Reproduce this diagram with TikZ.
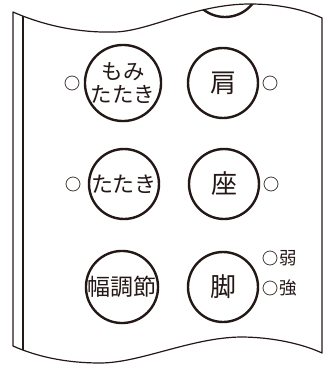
\documentclass[tikz,border=0pt]{standalone}
\usepackage{fontspec}
\setmainfont{Noto Sans CJK JP}
\definecolor{ink}{HTML}{231815}
\tikzset{
  btn/.style={circle, draw=ink, line width=2.4pt, minimum size=70pt, inner sep=0pt, text=ink, align=center},
  bigtxt/.style={font=\fontsize{26}{28}\selectfont},
  midtxt/.style={font=\fontsize{22}{22}\selectfont},
  lamp/.style={circle, draw=ink!85, line width=0.8pt, minimum size=14pt, inner sep=0pt},
  lbl/.style={text=ink, inner sep=0pt, font=\fontsize{17.5}{17.5}\selectfont},
  panel/.style={draw=ink, line width=1.2pt}
}
\begin{document}
\begin{tikzpicture}[x=1pt,y=-1pt]
\useasboundingbox (0,0) rectangle (325,365);
% panel outline
\def\panelpath{(13,12) .. controls (45,26) and (80,33) .. (115,32) .. controls (150,31) and (195,4) .. (250,4) .. controls (280,4) and (305,10) .. (322,18) -- (322,353) .. controls (305,345) and (275,337) .. (240,337) .. controls (190,338) and (140,363) .. (100,363) .. controls (70,363) and (40,358) .. (13,346) -- cycle}
\draw[panel, line join=round] \panelpath;
\draw[panel] (23,16) -- (23,350);
\begin{scope}
  \clip \panelpath;
  \node[btn] (topbtn) at (225,-18) {};
\end{scope}
% buttons
\node[btn, font=\fontsize{21.5}{22.5}\selectfont] (momi) at (123,83) {もみ\\たたき};
\node[btn, bigtxt] (kata) at (223,83) {肩};
\node[btn, midtxt] (tataki) at (124,184) {たたき};
\node[btn, bigtxt] (za) at (224,184) {座};
\node[btn, font=\fontsize{23}{23}\selectfont] (haba) at (122,287) {幅調節};
\node[btn, bigtxt] (ashi) at (223,287) {脚};
% lamps
\node[lamp] (l1) at (72,83) {};
\node[lamp] (r1) at (270,83) {};
\node[lamp] (l2) at (73,184) {};
\node[lamp] (r2) at (271,184) {};
\node[lamp] (rw) at (270,258) {};
\node[lamp] (rs) at (270,288) {};
\node[lbl, anchor=west] (jaku) at (279.5,258) {弱};
\node[lbl, anchor=west] (kyo) at (279.5,288) {強};
\end{tikzpicture}
\end{document}
